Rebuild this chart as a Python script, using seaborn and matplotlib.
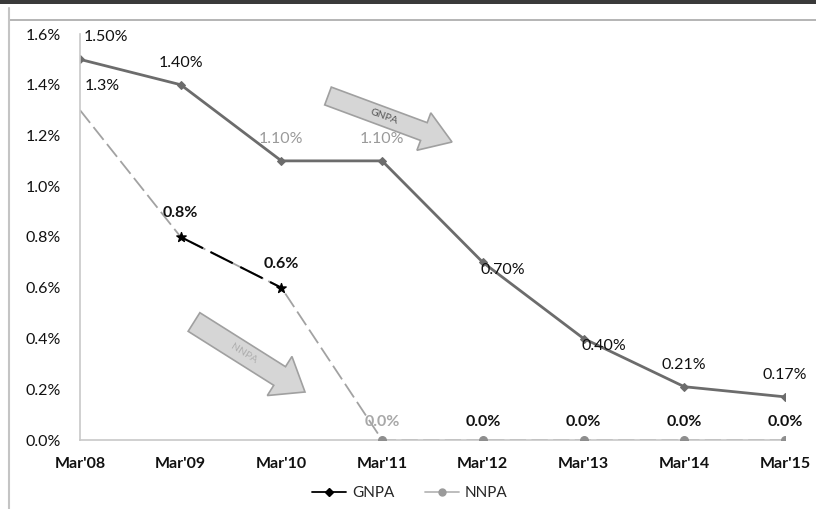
import numpy as np
import pandas as pd
import matplotlib
matplotlib.use("Agg")
import matplotlib.pyplot as plt
import seaborn as sns
from matplotlib.patches import FancyArrow, Rectangle
from matplotlib.lines import Line2D
from matplotlib.transforms import IdentityTransform

# ---- data -------------------------------------------------------------
periods = ["Mar'08", "Mar'09", "Mar'10", "Mar'11", "Mar'12", "Mar'13", "Mar'14", "Mar'15"]
gnpa = [1.50, 1.40, 1.10, 1.10, 0.70, 0.40, 0.21, 0.17]
nnpa = [1.3, 0.8, 0.6, 0.0, 0.0, 0.0, 0.0, 0.0]
gnpa_labels = ["1.50%", "1.40%", "1.10%", "1.10%", "0.70%", "0.40%", "0.21%", "0.17%"]
nnpa_labels = ["1.3%", "0.8%", "0.6%", "0.0%", "0.0%", "0.0%", "0.0%", "0.0%"]
yticks = [0.0, 0.2, 0.4, 0.6, 0.8, 1.0, 1.2, 1.4, 1.6]

df = pd.DataFrame({"pos": np.arange(len(periods)), "period": periods,
                   "GNPA": gnpa, "NNPA": nnpa})

sns.set_theme(style="white")
plt.rcParams["font.family"] = ["Lato", "DejaVu Sans"]

W, H = 816, 509
fig = plt.figure(figsize=(W / 100, H / 100), dpi=100)
fig.patch.set_facecolor("white")
ax = fig.add_axes([80 / W, (H - 440) / H, 705 / W, 406 / H])
ax.set_facecolor("none")

# page frame around the chart
fig.add_artist(Rectangle((0, 1 - 4 / H), 1, 4 / H, transform=fig.transFigure,
                         color="#3a3a3a", lw=0, zorder=0))
fig.add_artist(Line2D([10 / W, 1], [1 - 20 / H] * 2, transform=fig.transFigure,
                      color="#a8a8a8", lw=1.2))
fig.add_artist(Line2D([9 / W] * 2, [0, 1 - 8 / H], transform=fig.transFigure,
                      color="#c4c4c4", lw=1.5))

# GNPA line (upper)
up_col = "#6c6c6c"
sns.lineplot(data=df, x="pos", y="GNPA", ax=ax, color=up_col, lw=2.0,
             marker="D", markersize=4, markeredgecolor=up_col, legend=False)

# NNPA line (lower)
lo_col = "#a2a2a2"
sns.lineplot(data=df, x="pos", y="NNPA", ax=ax, color=lo_col, lw=1.3,
             legend=False)
ax.lines[-1].set_linestyle((0, (9, 3)))
mid = df.iloc[1:3]
sns.lineplot(data=mid, x="pos", y="NNPA", ax=ax, color="black", lw=1.5,
             legend=False)
ax.lines[-1].set_linestyle((0, (12, 4)))
ax.scatter(df["pos"][1:3], df["NNPA"][1:3], marker="*", s=50, color="black", zorder=5)
ax.scatter(df["pos"][3:], df["NNPA"][3:], marker="o", s=30, color="#8e8e8e", zorder=5)

# data labels
fs = 11.5
for i, (v, t) in enumerate(zip(gnpa, gnpa_labels)):
    dx, dy, col = 0, 22, "#111111"
    if i == 0:
        dx, dy = 26, 22
    if i in (2, 3):
        col = "#9a9a9a"
    if i in (4, 5):
        dx, dy = 20, -8
    ax.annotate(t, (i, v), xytext=(dx, dy), textcoords="offset pixels",
                ha="center", va="center", fontsize=fs, color=col)
for i, (v, t) in enumerate(zip(nnpa, nnpa_labels)):
    dx, dy, col, fw = 0, 18, "#111111", "bold"
    if i == 0:
        dx, dy, fw = 22, 24, "normal"
    if i in (1, 2):
        dy = 24
    if i == 3:
        col = "#a8a8a8"
    ax.annotate(t, (i, v), xytext=(dx, dy), textcoords="offset pixels",
                ha="center", va="center", fontsize=fs, color=col, fontweight=fw)

# axes styling
ax.set_xlim(0, len(periods) - 1)
ax.set_ylim(0, 1.6)
ax.set_xticks(df["pos"])
ax.set_xticklabels(periods, fontsize=11.5, fontweight="bold", color="#111111")
ax.set_yticks(yticks)
ax.set_yticklabels([f"{v:.1f}%" for v in yticks], fontsize=11.5, color="#111111")
ax.tick_params(axis="x", length=0, pad=12)
ax.tick_params(axis="y", length=0, pad=14)
ax.set_xlabel("")
ax.set_ylabel("")
for s in ("top", "right"):
    ax.spines[s].set_visible(False)
ax.spines["left"].set_color("#c8c8c8")
ax.spines["bottom"].set_color("#c8c8c8")
ax.spines["left"].set_linewidth(1.2)
ax.spines["bottom"].set_linewidth(1.2)

# trend arrows (pixel coordinates)
def block_arrow(x0, y0, x1, y1, label, txtcol, width):
    a = FancyArrow(x0, H - y0, x1 - x0, -(y1 - y0), width=width, head_width=width * 2.1,
                   head_length=30, length_includes_head=True,
                   transform=IdentityTransform(), facecolor="#d6d6d6",
                   edgecolor="#a0a0a0", lw=1.2, zorder=1)
    fig.add_artist(a)
    ang = -np.degrees(np.arctan2(y1 - y0, x1 - x0))
    fig.text((x0 + (x1 - x0) * 0.45) / W, 1 - (y0 + (y1 - y0) * 0.45) / H, label,
             rotation=ang, rotation_mode="anchor", ha="center", va="center",
             fontsize=7.5, color=txtcol)

block_arrow(328, 96, 452, 142, "GNPA", "#555555", 19)
block_arrow(194, 322, 305, 392, "NNPA", "#b0b0b0", 22)

# legend
handles = [Line2D([], [], color="black", lw=1.3, marker="D", markersize=4),
           Line2D([], [], color="#b8b8b8", lw=1.3, marker="o", markersize=5,
                  markerfacecolor="#9a9a9a", markeredgecolor="#9a9a9a")]
fig.legend(handles, ["GNPA", "NNPA"], loc="center", ncol=2,
           bbox_to_anchor=(410 / W, 1 - 493 / H), frameon=False, fontsize=11,
           handlelength=2.2, columnspacing=2.0, handletextpad=0.4)

fig.savefig("out.png", dpi=100)
